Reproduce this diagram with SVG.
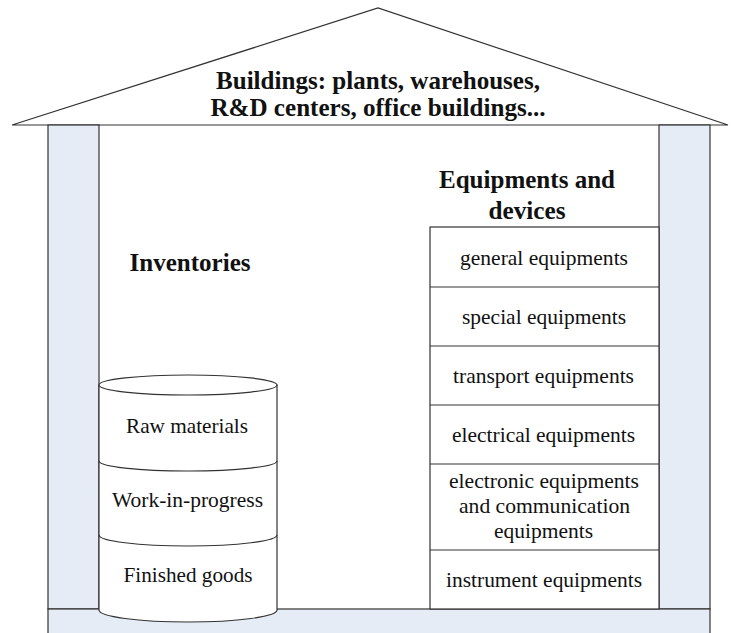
<svg xmlns="http://www.w3.org/2000/svg" width="734" height="633" viewBox="0 0 734 633">
<style>
  .ln{stroke:#333;stroke-width:1.2;}
  .wall{fill:#e5ecf6;stroke:#333;stroke-width:1.2;}
  .box{fill:#fff;stroke:#333;stroke-width:1.2;}
  text{font-family:'Liberation Serif',Tinos,'Times New Roman',Times,'DejaVu Serif',serif;}
  .t{font-size:21.5px;fill:#111;text-anchor:middle;}
  .b{font-size:25px;font-weight:bold;fill:#111;text-anchor:middle;}
</style>
<rect width="734" height="633" fill="#fff"/>
<g id="roof">
  <polygon points="12,125 378,8 728,125" fill="#fff" class="ln"/>
  <text class="b" x="378" y="89" textLength="324" lengthAdjust="spacingAndGlyphs">Buildings: plants, warehouses,</text>
  <text class="b" x="378" y="116" textLength="335" lengthAdjust="spacingAndGlyphs">R&amp;D centers, office buildings...</text>
</g>
<g id="walls">
  <rect class="wall" x="48" y="125" width="51" height="484"/>
  <rect class="wall" x="659" y="125" width="51" height="484"/>
  <rect class="wall" x="48" y="609" width="662" height="40"/>
</g>
<g id="inventories">
  <text class="b" x="190" y="271" textLength="121" lengthAdjust="spacingAndGlyphs">Inventories</text>
  <path class="box" d="M99,385 L99,610 A89,12 0 0 0 277,610 L277,385 Z"/>
  <ellipse class="box" cx="188" cy="385" rx="89" ry="10"/>
  <path class="ln" fill="none" d="M99,461 A89,10 0 0 0 277,461"/>
  <path class="ln" fill="none" stroke-width="2" d="M99,535 A89,11 0 0 0 277,535"/>
  <text class="t" x="187" y="433" textLength="122" lengthAdjust="spacingAndGlyphs">Raw materials</text>
  <text class="t" x="187.5" y="507" textLength="151" lengthAdjust="spacingAndGlyphs">Work-in-progress</text>
  <text class="t" x="188" y="582" textLength="129" lengthAdjust="spacingAndGlyphs">Finished goods</text>
</g>
<g id="equipments">
  <text class="b" x="527" y="188" textLength="176" lengthAdjust="spacingAndGlyphs">Equipments and</text>
  <text class="b" x="527" y="219" textLength="77" lengthAdjust="spacingAndGlyphs">devices</text>
  <rect class="box" x="430" y="227" width="229" height="382"/>
  <line class="ln" x1="430" y1="287" x2="659" y2="287"/>
  <line class="ln" x1="430" y1="346" x2="659" y2="346"/>
  <line class="ln" x1="430" y1="405" x2="659" y2="405"/>
  <line class="ln" x1="430" y1="464" x2="659" y2="464"/>
  <line class="ln" x1="430" y1="550" x2="659" y2="550"/>
  <text class="t" x="544" y="265" textLength="168" lengthAdjust="spacingAndGlyphs">general equipments</text>
  <text class="t" x="544" y="324" textLength="164" lengthAdjust="spacingAndGlyphs">special equipments</text>
  <text class="t" x="543.5" y="383" textLength="181" lengthAdjust="spacingAndGlyphs">transport equipments</text>
  <text class="t" x="543.5" y="442" textLength="183" lengthAdjust="spacingAndGlyphs">electrical equipments</text>
  <text class="t" x="544" y="488" textLength="190" lengthAdjust="spacingAndGlyphs">electronic equipments</text>
  <text class="t" x="544.5" y="513" textLength="171" lengthAdjust="spacingAndGlyphs">and communication</text>
  <text class="t" x="543.5" y="538" textLength="99" lengthAdjust="spacingAndGlyphs">equipments</text>
  <text class="t" x="544" y="587" textLength="196" lengthAdjust="spacingAndGlyphs">instrument equipments</text>
</g>
<g id="connectors"></g>
</svg>
